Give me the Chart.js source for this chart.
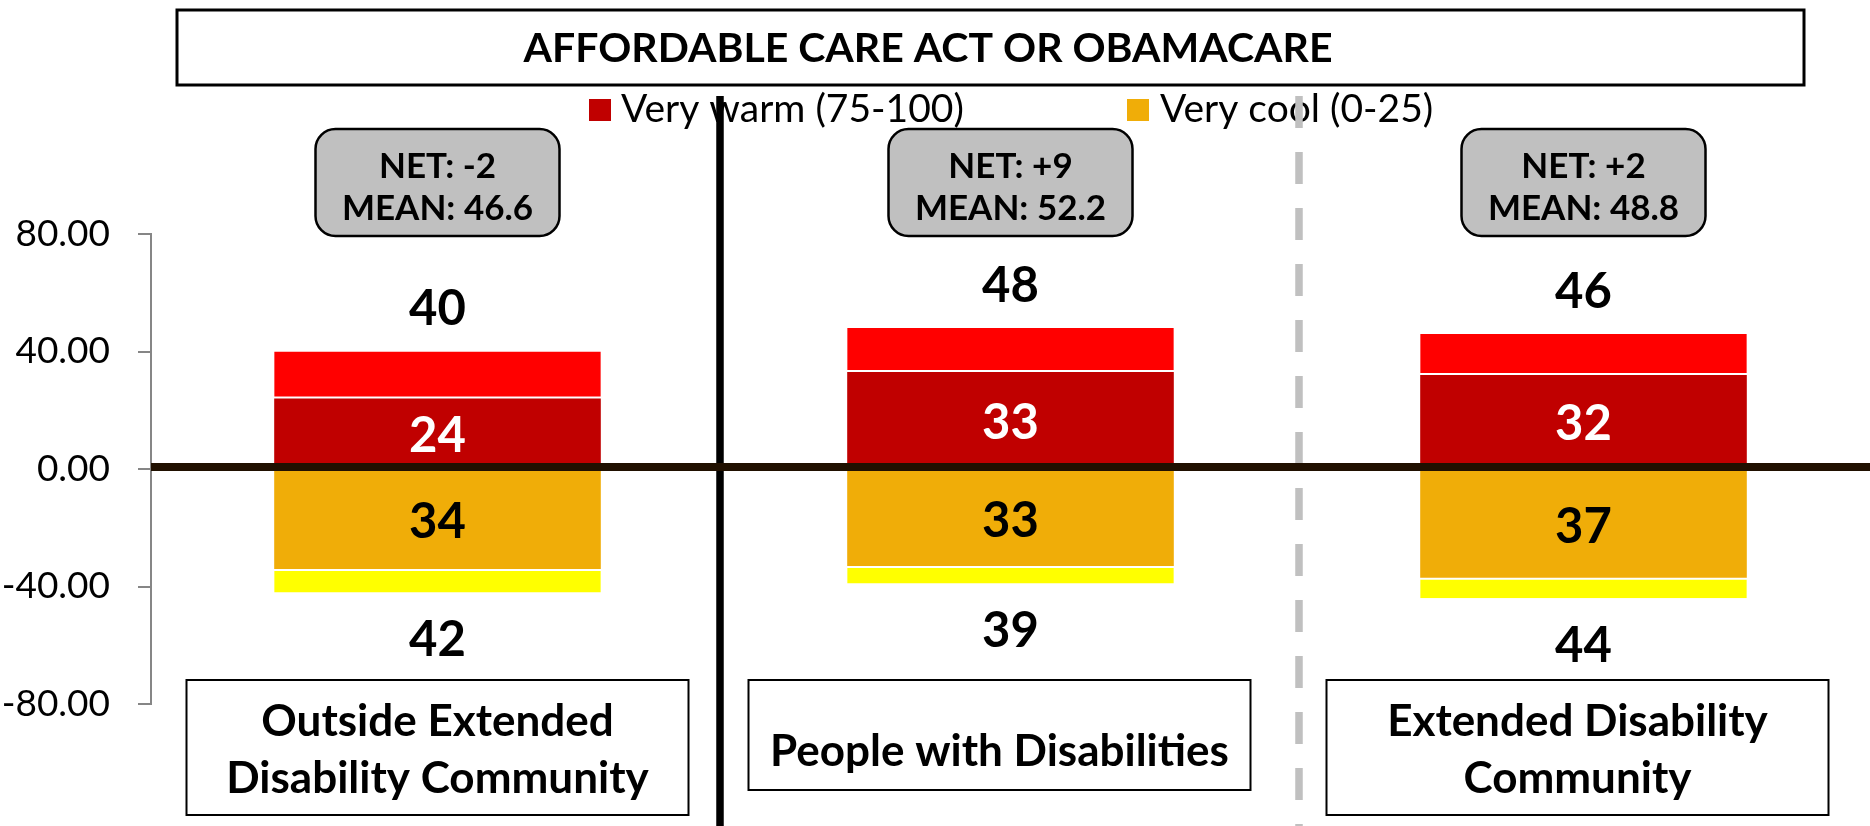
<!DOCTYPE html>
<html>
<head>
<meta charset="utf-8">
<script src="https://cdn.jsdelivr.net/npm/chart.js@4"></script>
<style>
  html, body { margin: 0; padding: 0; background: #fff; }
  #wrap { width: 1870px; height: 826px; }
</style>
</head>
<body>
<div id="wrap"><canvas id="canvas" width="1870" height="826"></canvas></div>
<script>
'use strict'

const title = 'AFFORDABLE CARE ACT OR OBAMACARE'
const categories = [
  ['Outside Extended', 'Disability Community'],
  ['People with Disabilities'],
  ['Extended Disability', 'Community']
]
const veryWarm = [24, 33, 32]
const warm = [16, 15, 14]
const veryCool = [-34, -33, -37]
const cool = [-8, -6, -7]
const warmTotals = [40, 48, 46]
const coolTotals = [42, 39, 44]
const netLabels = ['NET: -2', 'NET: +9', 'NET: +2']
const meanLabels = ['MEAN: 46.6', 'MEAN: 52.2', 'MEAN: 48.8']
const legendLabels = ['Very warm (75-100)', 'Very cool (0-25)']

const FONT = 'Lato'
Chart.defaults.font.family = FONT

const text = (ctx, str, x, y, font, color, align) => {
  ctx.font = font
  ctx.fillStyle = color || '#000'
  ctx.textAlign = align || 'center'
  ctx.textBaseline = 'middle'
  ctx.fillText(str, x, y)
}

const roundRect = (ctx, x, y, w, h, r) => {
  ctx.beginPath()
  ctx.moveTo(x + r, y)
  ctx.arcTo(x + w, y, x + w, y + h, r)
  ctx.arcTo(x + w, y + h, x, y + h, r)
  ctx.arcTo(x, y + h, x, y, r)
  ctx.arcTo(x, y, x + w, y, r)
  ctx.closePath()
}

// the category boxes sit a little left of the bars
const boxShift = [0, -11, -6]

const overlay = {
  id: 'overlay',
  afterDraw (chart) {
    const ctx = chart.ctx
    const xs = chart.scales.x
    const ys = chart.scales.y
    const area = chart.chartArea
    ctx.save()

    // title box
    ctx.lineWidth = 3
    ctx.strokeStyle = '#000'
    ctx.strokeRect(177, 10, 1627, 75)
    text(ctx, title, 928, 49, `bold 41px ${FONT}`)

    // legend
    ctx.fillStyle = '#C00000'
    ctx.fillRect(589, 99, 22, 22)
    text(ctx, legendLabels[0], 621, 109, `39px ${FONT}`, '#000', 'left')
    ctx.fillStyle = '#F0AD08'
    ctx.fillRect(1127, 99, 22, 22)
    text(ctx, legendLabels[1], 1160, 109, `39px ${FONT}`, '#000', 'left')

    // separators between groups
    const sep1 = (xs.getPixelForValue(0) + xs.getPixelForValue(1)) / 2 - 4
    const sep2 = (xs.getPixelForValue(1) + xs.getPixelForValue(2)) / 2 + 2
    ctx.lineWidth = 7.5
    ctx.strokeStyle = '#000'
    ctx.beginPath()
    ctx.moveTo(sep1, 96)
    ctx.lineTo(sep1, 826)
    ctx.stroke()
    ctx.strokeStyle = '#C0C0C0'
    ctx.setLineDash([32, 24])
    ctx.beginPath()
    ctx.moveTo(sep2, 96)
    ctx.lineTo(sep2, 826)
    ctx.stroke()
    ctx.setLineDash([])

    // zero line
    const y0 = ys.getPixelForValue(0) - 2
    ctx.lineWidth = 8
    ctx.strokeStyle = '#201000'
    ctx.beginPath()
    ctx.moveTo(area.left, y0)
    ctx.lineTo(area.right, y0)
    ctx.stroke()

    const mWarmDark = chart.getDatasetMeta(0).data
    const mWarm = chart.getDatasetMeta(1).data
    const mCoolDark = chart.getDatasetMeta(2).data
    const mCool = chart.getDatasetMeta(3).data

    categories.forEach((cat, i) => {
      const cx = xs.getPixelForValue(i)

      // NET / MEAN box
      roundRect(ctx, cx - 122, 129, 244, 107, 20)
      ctx.fillStyle = '#C0C0C0'
      ctx.fill()
      ctx.lineWidth = 2.5
      ctx.strokeStyle = '#000'
      ctx.stroke()
      text(ctx, netLabels[i], cx, 167, `bold 35px ${FONT}`)
      text(ctx, meanLabels[i], cx, 209, `bold 35px ${FONT}`)

      // segment labels
      const a = mWarmDark[i]
      text(ctx, String(veryWarm[i]), cx, (a.y + a.base) / 2 + 3, `bold 49px ${FONT}`, '#fff')
      const b = mCoolDark[i]
      text(ctx, String(-veryCool[i]), cx, (b.y + b.base) / 2 + 3, `bold 49px ${FONT}`, '#000')

      // totals
      text(ctx, String(warmTotals[i]), cx, mWarm[i].y - 42, `bold 49px ${FONT}`)
      text(ctx, String(coolTotals[i]), cx, mCool[i].y + 48, `bold 49px ${FONT}`)

      // category box
      const bx = cx + boxShift[i]
      const h = cat.length > 1 ? 135 : 110
      ctx.fillStyle = '#fff'
      ctx.fillRect(bx - 251, 680, 502, h)
      ctx.lineWidth = 2
      ctx.strokeStyle = '#000'
      ctx.strokeRect(bx - 251, 680, 502, h)
      if (cat.length > 1) {
        text(ctx, cat[0], bx, 722, `bold 44px ${FONT}`)
        text(ctx, cat[1], bx, 779, `bold 44px ${FONT}`)
      } else {
        text(ctx, cat[0], bx, 752, `bold 44px ${FONT}`)
      }
    })
    ctx.restore()
  }
}

const chart = new Chart(document.getElementById('canvas').getContext('2d'), {
  type: 'bar',
  data: {
    labels: categories.map(c => c.join(' ')),
    datasets: [
      { label: 'Very warm (75-100)', data: veryWarm, backgroundColor: '#C00000', borderWidth: 0 },
      {
        label: 'Warm',
        data: warm,
        backgroundColor: '#FF0000',
        borderColor: '#FFFFFF',
        borderWidth: { top: 0, left: 0, right: 0, bottom: 2 },
        borderSkipped: false
      },
      { label: 'Very cool (0-25)', data: veryCool, backgroundColor: '#F0AD08', borderWidth: 0 },
      {
        label: 'Cool',
        data: cool,
        backgroundColor: '#FFFF00',
        borderColor: '#FFFFFF',
        borderWidth: { top: 2, left: 0, right: 0, bottom: 0 },
        borderSkipped: false
      }
    ]
  },
  options: {
    responsive: false,
    animation: false,
    devicePixelRatio: 1,
    layout: { padding: { top: 234, bottom: 122, left: 0, right: 0 } },
    barPercentage: 0.57,
    categoryPercentage: 1,
    plugins: {
      legend: { display: false },
      title: { display: false },
      tooltip: { enabled: false }
    },
    scales: {
      x: { stacked: true, display: false },
      y: {
        stacked: true,
        min: -80,
        max: 80,
        afterFit: scale => { scale.width = 151 },
        ticks: {
          stepSize: 40,
          padding: 28,
          color: '#000',
          font: { size: 37, family: FONT },
          callback: v => v.toFixed(2)
        },
        grid: {
          drawOnChartArea: false,
          drawTicks: true,
          tickLength: 13,
          color: '#868686',
          lineWidth: 2
        },
        border: { color: '#868686', width: 2 }
      }
    }
  },
  plugins: [overlay]
})
</script>
</body>
</html>
